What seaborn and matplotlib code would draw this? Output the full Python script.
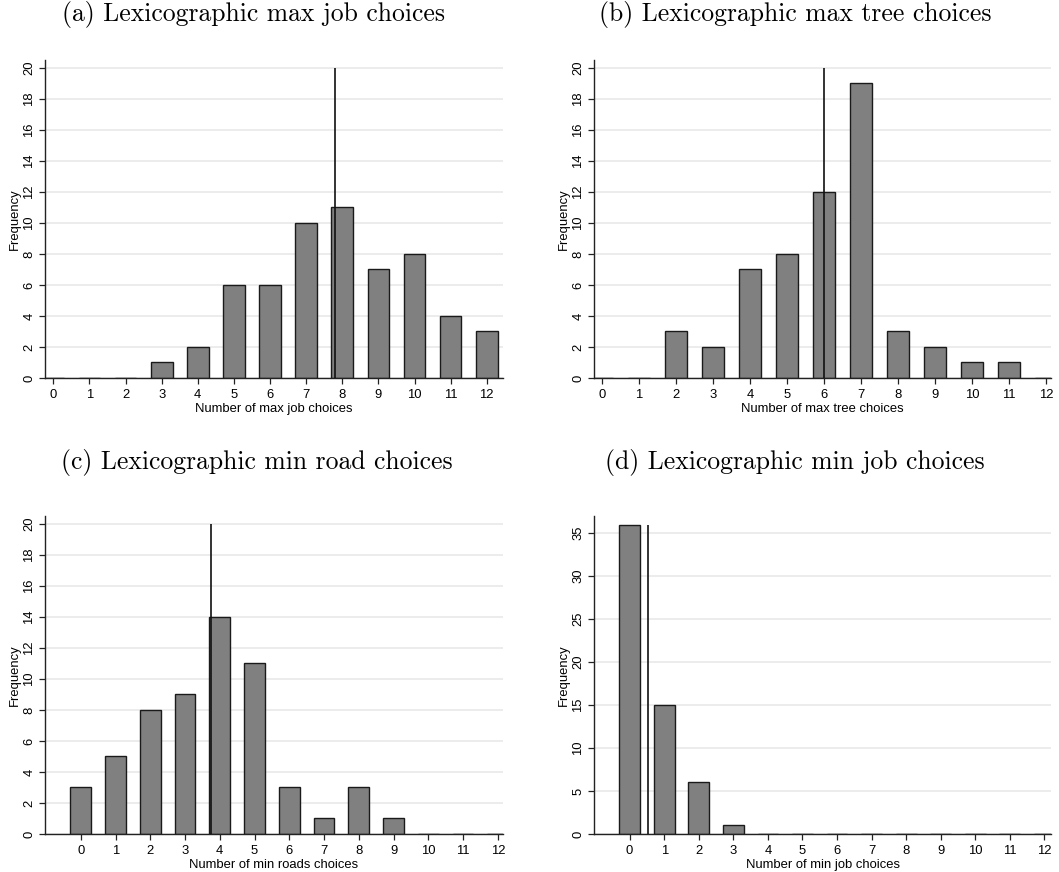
import matplotlib
matplotlib.use("Agg")
import matplotlib.pyplot as plt
import numpy as np
import pandas as pd
import seaborn as sns

# data
choices = list(range(13))
max_job = [0, 0, 0, 1, 2, 6, 6, 10, 11, 7, 8, 4, 3]
max_tree = [0, 0, 3, 2, 7, 8, 12, 19, 3, 2, 1, 1, 0]
min_road = [3, 5, 8, 9, 14, 11, 3, 1, 3, 1, 0, 0, 0]
min_job = [36, 15, 6, 1, 0, 0, 0, 0, 0, 0, 0, 0, 0]
mean_lines = [7.8, 6.0, 3.74, 0.52]
line_tops = [20, 20, 20, 36]

titles = ["(a) Lexicographic max job choices",
          "(b) Lexicographic max tree choices",
          "(c) Lexicographic min road choices",
          "(d) Lexicographic min job choices"]
xlabels = ["Number of max job choices", "Number of max tree choices",
           "Number of min roads choices", "Number of min job choices"]
yticks = [np.arange(0, 21, 2)] * 3 + [np.arange(0, 36, 5)]
ylims = [20.5, 20.5, 20.5, 37]
xlims = [(-0.23, 12.45), (-0.21, 12.13), (-1.03, 12.15), (-1.03, 12.19)]

sns.set_theme(style="white")
plt.rcParams["font.family"] = ["Liberation Sans", "DejaVu Sans"]
plt.rcParams["text.color"] = "black"
plt.rcParams["axes.labelcolor"] = "black"
plt.rcParams["xtick.color"] = "black"
plt.rcParams["ytick.color"] = "black"

W, H = 1059, 872
fig = plt.figure(figsize=(W / 100, H / 100), dpi=100)

# axes boxes in pixels: left, right, top, bottom
boxes = [(45, 503, 60, 378), (594, 1051, 60, 378),
         (45, 503, 516, 834), (594, 1051, 516, 834)]
title_pos = [(254, 15), (795, 15), (257, 462), (795, 462)]

series = [max_job, max_tree, min_road, min_job]
fs = 9.4

for i in range(4):
    l, r, t, b = boxes[i]
    ax = fig.add_axes([l / W, 1 - b / H, (r - l) / W, (b - t) / H])
    df = pd.DataFrame({"x": choices, "n": series[i]})
    ax.set_axisbelow(True)
    for v in yticks[i]:
        ax.axhline(v, color="#ebebeb", lw=1.3, zorder=0)
    sns.barplot(data=df, x="x", y="n", native_scale=True, width=0.6,
                color="#808080", saturation=1, edgecolor="#1a1a1a",
                linewidth=1.0, ax=ax, zorder=2)
    ax.vlines(mean_lines[i], 0, line_tops[i], color="#111111", lw=1.2, zorder=3)
    ax.set_xlim(*xlims[i])
    ax.set_ylim(0, ylims[i])
    ax.set_xticks(choices)
    ax.set_xticklabels([str(c) for c in choices], fontsize=fs)
    ax.set_yticks(yticks[i])
    ax.set_yticklabels([str(v) for v in yticks[i]], fontsize=fs,
                       rotation=90, va="center")
    ax.tick_params(axis="both", which="major", length=4, width=0.9,
                   color="#222222", left=True, bottom=True)
    ax.tick_params(axis="y", pad=3)
    ax.tick_params(axis="x", pad=4)
    ax.set_xlabel(xlabels[i], fontsize=fs, labelpad=1)
    ax.set_ylabel("Frequency", fontsize=fs, labelpad=2)
    for s in ["top", "right"]:
        ax.spines[s].set_visible(False)
    for s in ["left", "bottom"]:
        ax.spines[s].set_color("#222222")
        ax.spines[s].set_linewidth(1.0)
    ax.grid(False)
    tx, ty = title_pos[i]
    fig.text(tx / W, 1 - ty / H, titles[i], family="cmr10", fontsize=18.5,
             ha="center", va="center")

fig.savefig("out.png", dpi=100, facecolor="white")
